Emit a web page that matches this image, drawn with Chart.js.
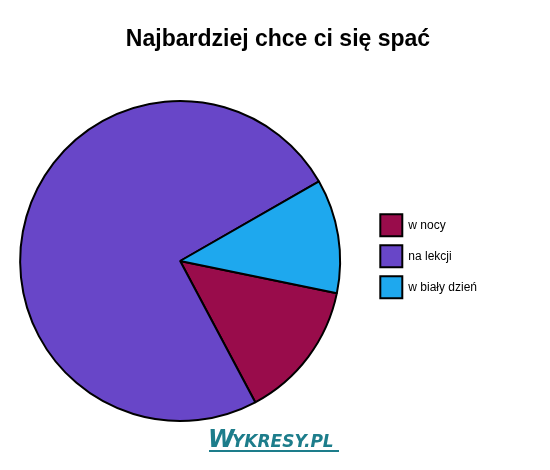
<!DOCTYPE html>
<html>
<head>
<meta charset="utf-8">
<script src="https://cdn.jsdelivr.net/npm/chart.js@4.4.1/dist/chart.umd.min.js"></script>
<style>
  html, body { margin: 0; padding: 0; background: #fff; overflow: hidden; }
  #wrap { width: 550px; height: 470px; overflow: hidden; }
  #pie { margin-left: -11px; display: block; }
</style>
</head>
<body>
<div id="wrap"><canvas id="pie" width="561" height="470"></canvas></div>
<script>
const title = "Najbardziej chce ci się spać";
const labels = ["w nocy", "na lekcji", "w biały dzień"];
const values = [14, 74.5, 11.5];
const colors = ["#990c4b", "#6846c8", "#1ea8ee"];

const FONT = "'Liberation Sans', Arial, sans-serif";
const SHIFT = 11; // canvas is pulled left by this much so the pie sits where it should

// title sits over the whole picture, not over the pie, so draw it here
const headPlugin = {
    id: "head",
    afterDraw(chart) {
        const ctx = chart.ctx;
        ctx.save();
        ctx.fillStyle = "#000";
        ctx.font = "bold 23px " + FONT;
        ctx.textAlign = "center";
        ctx.textBaseline = "middle";
        ctx.fillText(title, 278 + SHIFT, 40);
        ctx.restore();
    }
};

// little "Wykresy.pl" mark under the pie
const logoPlugin = {
    id: "logo",
    afterDraw(chart) {
        const ctx = chart.ctx;
        const x = 208 + SHIFT;
        ctx.save();
        ctx.fillStyle = "#1d7d8b";
        ctx.textBaseline = "alphabetic";
        ctx.font = "italic bold 24px 'DejaVu Sans', sans-serif";
        ctx.fillText("W", x, 447);
        ctx.font = "italic bold 17px 'DejaVu Sans', sans-serif";
        ctx.fillText("YKRESY.PL", x + 24, 447);
        ctx.fillRect(x + 1, 450, 130, 2);
        ctx.restore();
    }
};

new Chart(document.getElementById("pie").getContext("2d"), {
    type: "pie",
    data: {
        labels,
        datasets: [{
            data: values,
            backgroundColor: colors,
            borderColor: "#000",
            borderWidth: 2,
        }]
    },
    options: {
        responsive: false,
        animation: false,
        rotation: 101.6,
        layout: { padding: { left: 0, right: 63, top: 100, bottom: 48 } },
        plugins: {
            title: { display: false },
            legend: {
                position: "right",
                title: {
                    display: true,
                    text: " ",
                    font: { size: 12 },
                    padding: -12
                },
                labels: {
                    color: "#000",
                    font: { family: FONT, size: 12 },
                    boxWidth: 22,
                    boxHeight: 22,
                    padding: 9
                }
            },
            tooltip: { enabled: false }
        }
    },
    plugins: [headPlugin, logoPlugin]
});
</script>
</body>
</html>
